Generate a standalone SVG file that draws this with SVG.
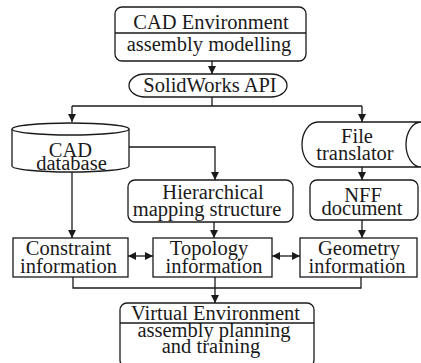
<svg xmlns="http://www.w3.org/2000/svg" width="421" height="363" viewBox="0 0 421 363">
  <defs>
    <marker id="arr" viewBox="0 0 10 10" refX="10" refY="5" markerWidth="8" markerHeight="8" markerUnits="userSpaceOnUse" orient="auto-start-reverse">
      <path d="M0,0 L10,5 L0,10 Z" fill="#1a1a1a"/>
    </marker>
    <style>
      .shape { fill: #fff; stroke: #1a1a1a; stroke-width: 1.3; }
      .line { fill: none; stroke: #1a1a1a; stroke-width: 1.3; }
      .lbl { font-size: 20.5px; fill: #1a1a1a; text-anchor: middle; }
    </style>
  </defs>
  <rect width="421" height="363" fill="#fff"/>

  <g id="connectors">
    <path class="line" d="M212 61 V74" marker-end="url(#arr)"/>
    <path class="line" d="M212 97 V106"/>
    <path class="line" d="M72 106 H362"/>
    <path class="line" d="M72 106 V122" marker-end="url(#arr)"/>
    <path class="line" d="M362 106 V122" marker-end="url(#arr)"/>
    <path class="line" d="M129 147 H215 V180" marker-end="url(#arr)"/>
    <path class="line" d="M72 172 V238" marker-end="url(#arr)"/>
    <path class="line" d="M214 222 V238" marker-end="url(#arr)"/>
    <path class="line" d="M362 167 V180" marker-end="url(#arr)"/>
    <path class="line" d="M362 220 V238" marker-end="url(#arr)"/>
    <path class="line" d="M128 256 H153" marker-start="url(#arr)" marker-end="url(#arr)"/>
    <path class="line" d="M272 256 H300" marker-start="url(#arr)" marker-end="url(#arr)"/>
    <path class="line" d="M73 277 V288 H361 V277"/>
    <path class="line" d="M215 277 V303" marker-end="url(#arr)"/>
  </g>

  <g font-family="Liberation Serif, Tinos, DejaVu Serif, serif">
  <g id="cad-environment">
    <rect class="shape" x="115" y="7" width="191" height="54" rx="7"/>
    <path class="line" d="M115 33 H306"/>
    <text class="lbl" x="211" y="29">CAD Environment</text>
    <text class="lbl" x="209" y="51">assembly modelling</text>
  </g>

  <g id="solidworks-api">
    <path class="shape" d="M145 74 H271 A16 11.5 0 0 1 271 97 H145 A16 11.5 0 0 1 145 74 Z"/>
    <text class="lbl" x="210" y="92">SolidWorks API</text>
  </g>

  <g id="cad-database">
    <path class="shape" d="M12 129 V166 A58.5 6 0 0 0 129 166 V129 A58.5 6 0 0 0 12 129 Z"/>
    <path class="line" d="M12 129 A58.5 6 0 0 0 129 129"/>
    <text class="lbl" x="70.5" y="157">CAD</text>
    <text class="lbl" x="71.5" y="170">database</text>
  </g>

  <g id="file-translator">
    <path class="shape" d="M318 122 H421 A15 22.5 0 0 0 421 167 H318 A16 22.5 0 0 1 318 122 Z"/>
    <text class="lbl" x="357" y="143">File</text>
    <text class="lbl" x="355" y="160">translator</text>
  </g>

  <g id="hierarchical-mapping">
    <rect class="shape" x="128" y="180" width="165" height="42" rx="7"/>
    <text class="lbl" x="213" y="199">Hierarchical</text>
    <text class="lbl" x="207" y="216">mapping structure</text>
  </g>

  <g id="nff-document">
    <rect class="shape" x="310" y="180" width="108" height="40" rx="7"/>
    <text class="lbl" x="363" y="202">NFF</text>
    <text class="lbl" x="362" y="215">document</text>
  </g>

  <g id="constraint-information">
    <rect class="shape" x="13" y="238" width="115" height="39"/>
    <text class="lbl" x="68.5" y="255">Constraint</text>
    <text class="lbl" x="68.5" y="273">information</text>
  </g>

  <g id="topology-information">
    <rect class="shape" x="153" y="238" width="119" height="39"/>
    <text class="lbl" x="209" y="255">Topology</text>
    <text class="lbl" x="214" y="273">information</text>
  </g>

  <g id="geometry-information">
    <rect class="shape" x="300" y="238" width="117" height="39"/>
    <text class="lbl" x="359" y="255">Geometry</text>
    <text class="lbl" x="357" y="273">information</text>
  </g>

  <g id="virtual-environment">
    <rect class="shape" x="120" y="303" width="194" height="64" rx="7"/>
    <path class="line" d="M120 323 H314"/>
    <text class="lbl" x="215.5" y="320">Virtual Environment</text>
    <text class="lbl" x="214" y="337">assembly planning</text>
    <text class="lbl" x="211" y="353">and training</text>
  </g>
  </g>
</svg>
